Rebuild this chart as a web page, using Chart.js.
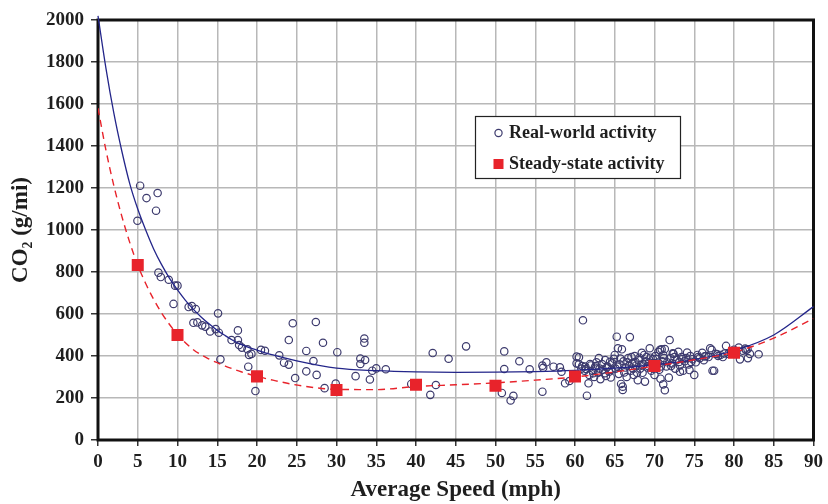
<!DOCTYPE html>
<html>
<head>
<meta charset="utf-8">
<script src="https://cdn.jsdelivr.net/npm/chart.js@4.4.1/dist/chart.umd.min.js"></script>
<style>
  html, body { margin: 0; padding: 0; background: #ffffff; }
  #wrap { width: 828px; height: 504px; position: relative; }
</style>
</head>
<body>
<div id="wrap"><canvas id="chart" width="828" height="504"></canvas></div>
<script>
// Axis ticks
const xTicks = [0, 5, 10, 15, 20, 25, 30, 35, 40, 45, 50, 55, 60, 65, 70, 75, 80, 85, 90];
const yTicks = [0, 200, 400, 600, 800, 1000, 1200, 1400, 1600, 1800, 2000];

// Real-world trips: average speed (mph) and CO2 (g/mi)
const realSpeed = [
  4.96, 5.3, 6.1, 7.3, 7.5, 7.6, 7.9, 8.9, 9.5, 9.7, 10.0,
  11.4, 11.8, 12.3, 12.0, 12.5, 13.1, 13.5, 14.1, 14.8, 15.1, 15.2, 15.4,
  16.8, 17.6, 17.6, 17.75, 18.1, 18.8, 19.0, 19.3, 18.9, 19.8,
  20.5, 21.0, 22.8, 23.4, 24.0, 24.0, 24.5, 24.8,
  26.2, 26.2, 27.1, 27.4, 27.5, 28.3, 28.5, 29.9, 30.1,
  32.4, 33.0, 33.0, 33.5, 33.5, 33.6, 34.2, 34.5, 35.0,
  36.2, 39.4, 41.8, 42.1, 42.5, 44.1, 46.3,
  50.8, 51.1, 51.1, 51.9, 52.25, 53.0, 54.3,
  55.9, 55.9, 56.0, 56.4, 57.3, 58.1, 58.3, 58.75, 59.3,
  60.2, 60.2, 60.5, 60.5, 60.8, 61.0, 61.2, 61.3, 61.5, 61.7, 61.8, 62.0, 62.2, 62.4, 62.5, 62.7, 62.9,
  63.0, 63.2, 63.5, 63.8, 63.9, 64.1, 64.3, 64.5, 64.7, 64.9, 65.0, 65.1, 65.25, 65.4, 65.5, 65.6, 65.8,
  65.9, 66.0, 66.0, 66.1, 66.3, 66.5, 66.7, 66.9, 67.0, 67.2, 67.4, 67.5, 67.7, 67.9, 68.0, 68.2, 68.4,
  68.5, 68.6, 68.8, 69.0, 69.1, 69.3, 69.4, 69.6, 69.8, 70.0, 70.1, 70.3, 70.5, 70.6, 70.75, 70.9, 71.0,
  71.1, 71.1, 71.3, 71.3, 71.5, 71.8, 71.9, 72.0, 72.2, 72.4, 72.6, 72.8, 73.0, 73.2, 73.4, 73.6, 73.8,
  74.1, 74.3, 74.5, 74.8, 75.0, 75.2, 75.4, 75.7, 76.0, 76.2, 76.5, 76.8, 77.0, 77.2, 77.5, 77.7, 78.0,
  78.3, 78.6, 79.0, 79.3, 79.6, 80.0, 80.3, 80.6, 80.75, 81.1, 81.4, 81.75, 82.0, 83.1,
  60.9, 61.4, 61.9, 62.3, 62.6, 63.1, 63.4, 63.7, 64.0, 64.4, 64.6, 65.3, 65.7, 66.2, 66.6,
  66.8, 67.1, 67.3, 67.6, 67.8, 68.1, 68.3, 68.7, 68.9, 69.2, 69.5, 69.7, 69.9, 70.2, 70.4,
  70.8, 71.2, 71.6, 72.1, 72.5, 73.1, 73.5, 74.0, 74.6, 75.5, 76.3, 77.9, 78.8, 80.2, 81.7,
  70.7, 72.3, 73.2, 74.4, 77.3, 81.5
];
const realCO2 = [
  1044, 1211, 1152, 1092, 1176, 797, 776, 763, 648, 735, 735,
  633, 638, 623, 558, 560, 546, 540, 517, 528, 603, 511, 384,
  476, 522, 476, 452, 440, 432, 405, 410, 349, 233,
  429, 425, 403, 368, 359, 476, 556, 295,
  424, 327, 376, 562, 310, 463, 247, 269, 418,
  304, 388, 362, 483, 463, 381, 288, 330, 341,
  337, 267, 215, 414, 262, 387, 446,
  224, 422, 338, 188, 210, 375, 337,
  230, 354, 344, 370, 349, 346, 325, 270, 281,
  397, 365, 394, 360, 340, 570, 330, 350, 211, 270, 310, 355, 330, 300, 345, 370, 320,
  390, 290, 335, 381, 305, 350, 325, 298, 365, 387, 405, 340, 492, 437, 315, 360, 267,
  432, 254, 238, 375, 345, 300, 390, 490, 330, 365, 310, 400, 355, 285, 380, 340, 415,
  320, 360, 278, 395, 345, 370, 437, 330, 385, 310, 400, 355, 420, 335, 292, 432, 375,
  405, 265, 433, 237, 350, 297, 476, 390, 365, 410, 340, 380, 420, 355, 395, 330, 375,
  416, 360, 400, 385, 310, 370, 405, 390, 415, 380, 400, 395, 437, 429, 330, 410, 400,
  405, 395, 448, 410, 420, 430, 415, 440, 384, 425, 435, 390, 410, 408,
  352, 338, 362, 318, 352, 340, 362, 318, 345, 372, 335, 350, 388, 322, 370,
  352, 395, 340, 372, 320, 392, 358, 405, 375, 352, 392, 365, 340, 385, 368,
  350, 390, 370, 352, 395, 372, 385, 390, 372, 395, 398, 408, 412, 420, 432,
  429, 413, 325, 333, 330, 429
];

// Steady-state cycles
const steadySpeed = [5, 10, 20, 30, 40, 50, 60, 70, 80];
const steadyCO2 = [833, 500, 303, 238, 263, 258, 302, 352, 415];

// Fitted trend through real-world trips (solid)
const realFitSpeed = [0, 1, 2, 3, 4, 5, 6, 7, 8, 9, 10, 11, 12, 13, 14, 15, 16, 17, 18, 19, 20, 22, 25, 30, 35, 40, 45, 50, 55, 60, 65, 70, 75, 80, 85, 90];
const realFitCO2 = [2020, 1770, 1555, 1375, 1220, 1100, 1000, 910, 835, 770, 715, 665, 622, 585, 552, 522, 497, 474, 455, 440, 428, 405, 377, 342, 330, 324, 322, 323, 326, 332, 342, 358, 383, 425, 500, 635];

// Fitted trend through steady-state cycles (dashed)
const steadyFitSpeed = [0, 1, 2, 3, 4, 5, 6, 7, 8, 9, 10, 12, 14, 15, 16, 18, 20, 22, 25, 30, 35, 40, 45, 50, 55, 60, 65, 70, 75, 80, 85, 90];
const steadyFitCO2 = [1580, 1380, 1210, 1065, 940, 833, 745, 670, 605, 550, 502, 430, 385, 368, 352, 325, 303, 285, 262, 241, 240, 255, 263, 272, 285, 300, 324, 352, 382, 418, 485, 578];

const pairs = (xs, ys) => xs.map((x, i) => ({ x: x, y: ys[i] }));

const FONT = '"Liberation Serif", "Times New Roman", serif';
const NAVY = '#3d3b6e';
const BLUE = '#24268a';
const RED = '#e8232b';
const INK = '#1e1e1e';

// Black frame around the plotting area
const framePlugin = {
  id: 'frame',
  beforeDatasetsDraw(chart) {
    const a = chart.chartArea;
    const ctx = chart.ctx;
    ctx.save();
    ctx.strokeStyle = '#111111';
    ctx.lineWidth = 3;
    ctx.strokeRect(a.left, a.top, a.right - a.left, a.bottom - a.top);
    ctx.restore();
  }
};

// Boxed legend inside the plot
const boxLegend = {
  id: 'boxLegend',
  afterDraw(chart) {
    const ctx = chart.ctx;
    ctx.save();
    const bx = 475, by = 116, bw = 205, bh = 62;
    ctx.fillStyle = '#ffffff';
    ctx.fillRect(bx, by, bw, bh);
    ctx.strokeStyle = '#222222';
    ctx.lineWidth = 1.2;
    ctx.strokeRect(bx + 0.5, by + 0.5, bw, bh);
    ctx.beginPath();
    ctx.arc(498.5, 133, 3.6, 0, Math.PI * 2);
    ctx.strokeStyle = NAVY;
    ctx.lineWidth = 1.2;
    ctx.stroke();
    ctx.fillStyle = RED;
    ctx.fillRect(493.5, 159, 10, 10);
    ctx.fillStyle = INK;
    ctx.font = 'bold 18px ' + FONT;
    ctx.textBaseline = 'middle';
    ctx.fillText('Real-world activity', 509, 133);
    ctx.fillText('Steady-state activity', 509, 164);
    ctx.restore();
  }
};

new Chart(document.getElementById('chart'), {
  type: 'scatter',
  data: {
    datasets: [
      {
        label: 'Steady-state activity',
        data: pairs(steadySpeed, steadyCO2),
        pointStyle: 'rect',
        pointRadius: 8.5,
        pointBackgroundColor: RED,
        pointBorderColor: RED,
        pointBorderWidth: 0,
        showLine: false,
        order: 0
      },
      {
        label: 'steady fit',
        type: 'line',
        data: pairs(steadyFitSpeed, steadyFitCO2),
        borderColor: RED,
        borderWidth: 1.4,
        borderDash: [7, 5],
        pointRadius: 0,
        cubicInterpolationMode: 'monotone',
        fill: false,
        order: 1
      },
      {
        label: 'real fit',
        type: 'line',
        data: pairs(realFitSpeed, realFitCO2),
        borderColor: BLUE,
        borderWidth: 1.3,
        pointRadius: 0,
        cubicInterpolationMode: 'monotone',
        fill: false,
        clip: 8,
        order: 2
      },
      {
        label: 'Real-world activity',
        data: pairs(realSpeed, realCO2),
        pointStyle: 'circle',
        pointRadius: 3.7,
        pointBackgroundColor: 'rgba(255,255,255,0)',
        pointBorderColor: NAVY,
        pointBorderWidth: 1.2,
        showLine: false,
        order: 3
      }
    ]
  },
  options: {
    responsive: false,
    devicePixelRatio: 1,
    animation: false,
    events: [],
    layout: { padding: { top: 20, right: 10, left: 0, bottom: 0 } },
    plugins: { legend: { display: false }, tooltip: { enabled: false } },
    scales: {
      x: {
        type: 'linear',
        min: 0, max: 90,
        afterBuildTicks: (s) => { s.ticks = xTicks.map(v => ({ value: v })); },
        afterFit: (s) => { s.height = 64; },
        border: { display: false },
        grid: { color: '#b8b8b8', lineWidth: 1.5, tickLength: 6, tickColor: '#333333', tickWidth: 1.5 },
        ticks: { color: INK, font: { family: FONT, size: 19, weight: 'bold' }, padding: 5, maxRotation: 0, autoSkip: false, callback: (v) => String(v) },
        title: { display: true, text: 'Average Speed (mph)', color: INK, font: { family: FONT, size: 23, weight: 'bold' }, padding: { top: 0, bottom: 0 } }
      },
      y: {
        type: 'linear',
        min: 0, max: 2000,
        afterBuildTicks: (s) => { s.ticks = yTicks.map(v => ({ value: v })); },
        afterFit: (s) => { s.width = 98; },
        border: { display: false },
        grid: { color: '#b8b8b8', lineWidth: 1.5, tickLength: 7, tickColor: '#333333', tickWidth: 1.5 },
        ticks: { color: INK, font: { family: FONT, size: 19, weight: 'bold' }, padding: 7, autoSkip: false, callback: (v) => String(v) },
        title: { display: true, text: 'CO\u2082 (g/mi)', color: INK, font: { family: FONT, size: 23, weight: 'bold' }, padding: { top: 7, bottom: 0 } }
      }
    }
  },
  plugins: [framePlugin, boxLegend]
});
</script>
</body>
</html>
